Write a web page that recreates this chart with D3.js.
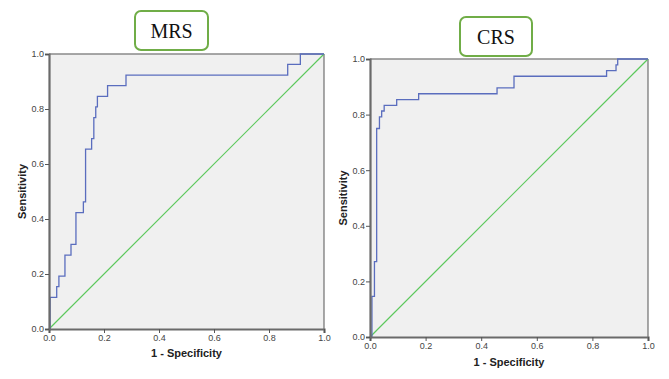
<!DOCTYPE html>
<html>
<head>
<meta charset="utf-8">
<script src="https://cdn.jsdelivr.net/npm/d3@7"></script>
<style>
  body { margin: 0; background: #fff; }
  svg { display: block; }
</style>
</head>
<body>
<div id="chart-area"></div>
<script>
// ROC points: 1 - specificity at each step, sensitivity after the step
const mrsFpr = [0, 0.004, 0.028, 0.036, 0.058, 0.080, 0.098, 0.125, 0.133, 0.155, 0.163, 0.170, 0.176, 0.213, 0.280, 0.868, 0.914, 1.0];
const mrsTpr = [0, 0.115, 0.154, 0.192, 0.269, 0.308, 0.423, 0.462, 0.654, 0.692, 0.769, 0.808, 0.846, 0.885, 0.923, 0.962, 1.0, 1.0];

const crsFpr = [0, 0.007, 0.016, 0.024, 0.034, 0.042, 0.051, 0.096, 0.175, 0.457, 0.518, 0.851, 0.885, 0.891, 1.0];
const crsTpr = [0, 0.146, 0.271, 0.750, 0.792, 0.813, 0.833, 0.854, 0.875, 0.896, 0.938, 0.958, 0.979, 1.0, 1.0];

const ticks = [0, 0.2, 0.4, 0.6, 0.8, 1.0];
const xTitle = "1 - Specificity";
const yTitle = "Sensitivity";

const svg = d3.select("#chart-area")
  .append("svg")
  .attr("width", 669)
  .attr("height", 379);

const panels = [
  { name: "MRS", fpr: mrsFpr, tpr: mrsTpr, left: 49, top: 54, size: 275,
    box: { x: 135, y: 11, w: 73, h: 39 }, xLabY: 357 },
  { name: "CRS", fpr: crsFpr, tpr: crsTpr, left: 370, top: 59, size: 278,
    box: { x: 460, y: 17, w: 72, h: 39 }, xLabY: 366 }
];

panels.forEach(p => {
  const x = d3.scaleLinear().domain([0, 1]).range([0, p.size]);
  const y = d3.scaleLinear().domain([0, 1]).range([p.size, 0]);

  // title box
  svg.append("rect")
    .attr("x", p.box.x).attr("y", p.box.y)
    .attr("width", p.box.w).attr("height", p.box.h)
    .attr("rx", 6)
    .attr("fill", "#fff")
    .attr("stroke", "#70ad47")
    .attr("stroke-width", 2);

  svg.append("text")
    .attr("x", p.box.x + p.box.w / 2)
    .attr("y", p.box.y + 27)
    .attr("text-anchor", "middle")
    .attr("font-family", "Liberation Serif, Times New Roman, serif")
    .attr("font-size", "20px")
    .attr("fill", "#111")
    .text(p.name);

  const g = svg.append("g")
    .attr("transform", `translate(${p.left}, ${p.top})`);

  g.append("rect")
    .attr("width", p.size).attr("height", p.size)
    .attr("fill", "#f0f0f0");

  // frame: top and right thinner
  g.append("line").attr("x1", 0).attr("x2", p.size).attr("y1", 0).attr("y2", 0)
    .attr("stroke", "#8a8a8a").attr("stroke-width", 1.5);
  g.append("line").attr("x1", p.size).attr("x2", p.size).attr("y1", 0).attr("y2", p.size)
    .attr("stroke", "#555").attr("stroke-width", 1);

  // reference diagonal
  g.append("line")
    .attr("x1", x(0)).attr("y1", y(0))
    .attr("x2", x(1)).attr("y2", y(1))
    .attr("stroke", "#5cc85c")
    .attr("stroke-width", 1.2);

  const pts = p.fpr.map((f, i) => [f, p.tpr[i]]);
  const line = d3.line()
    .x(d => x(d[0]))
    .y(d => y(d[1]))
    .curve(d3.curveStepAfter);

  g.append("path")
    .datum(pts)
    .attr("d", line)
    .attr("fill", "none")
    .attr("stroke", "#5a6dbe")
    .attr("stroke-width", 1.3);

  const xAxis = d3.axisBottom(x).tickValues(ticks).tickFormat(d3.format(".1f")).tickSize(4).tickPadding(2);
  const yAxis = d3.axisLeft(y).tickValues(ticks).tickFormat(d3.format(".1f")).tickSize(4).tickPadding(1);

  const xg = g.append("g").attr("transform", `translate(0,${p.size})`).call(xAxis);
  const yg = g.append("g").call(yAxis);

  [xg, yg].forEach(a => {
    a.select(".domain").attr("stroke", "#6a6a6a").attr("stroke-width", 2.2);
    a.selectAll(".tick line").attr("stroke", "#555");
    a.selectAll(".tick text")
      .attr("font-family", "Liberation Sans, Arial, sans-serif")
      .attr("font-size", "9px")
      .attr("fill", "#444");
  });

  svg.append("text")
    .attr("x", p.left + p.size / 2)
    .attr("y", p.xLabY)
    .attr("text-anchor", "middle")
    .attr("font-family", "Liberation Sans, Arial, sans-serif")
    .attr("font-weight", "bold")
    .attr("font-size", "11px")
    .attr("fill", "#222")
    .text(xTitle);

  svg.append("text")
    .attr("transform", `translate(${p.left - 23}, ${p.top + p.size / 2}) rotate(-90)`)
    .attr("text-anchor", "middle")
    .attr("font-family", "Liberation Sans, Arial, sans-serif")
    .attr("font-weight", "bold")
    .attr("font-size", "11px")
    .attr("fill", "#222")
    .text(yTitle);
});
</script>
</body>
</html>
